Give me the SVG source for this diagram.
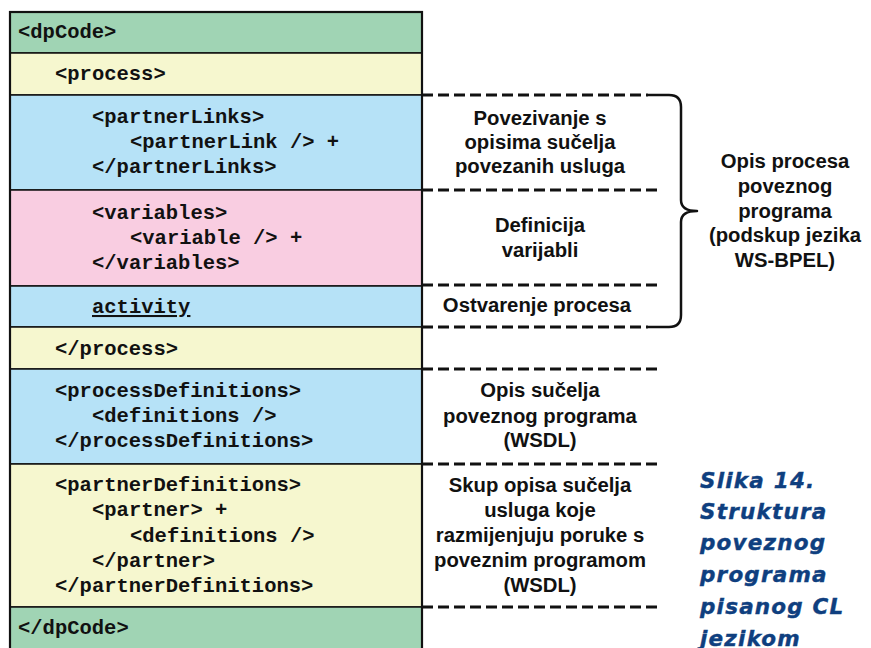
<svg xmlns="http://www.w3.org/2000/svg" width="871" height="648" viewBox="0 0 871 648">
  <style>
    .code { font-family: "Liberation Mono", "Courier New", monospace; font-weight: bold; font-size: 20.5px; fill: #111; }
    .note { font-family: "Liberation Sans", Arial, sans-serif; font-weight: bold; font-size: 20.3px; fill: #111; text-anchor: middle; }
    .cap { font-family: "DejaVu Sans", Verdana, sans-serif; font-weight: bold; font-style: italic; font-size: 21.5px; letter-spacing: 1.2px; fill: #0f3f7f; stroke: #0f3f7f; stroke-width: 0.4; }
    .row { stroke: #111; stroke-width: 1.5; }
    .green { fill: #a0d4b4; }
    .yellow { fill: #f6f7cf; }
    .blue { fill: #b6e2f7; }
    .pink { fill: #f9cde1; }
    .dash { stroke: #111; stroke-width: 3; stroke-dasharray: 11 5; fill: none; }
    .brace { stroke: #111; stroke-width: 2.5; fill: none; stroke-linejoin: round; }
  </style>

  <!-- code stack -->
  <g id="dpCode-open">
    <rect class="row green" x="10" y="12" width="412" height="41"/>
    <text class="code" x="18" y="38">&lt;dpCode&gt;</text>
  </g>
  <g id="process-open">
    <rect class="row yellow" x="10" y="53" width="412" height="42"/>
    <text class="code" x="55" y="80">&lt;process&gt;</text>
  </g>
  <g id="partnerLinks">
    <rect class="row blue" x="10" y="95" width="412" height="95"/>
    <text class="code" x="92" y="123">&lt;partnerLinks&gt;</text>
    <text class="code" x="130" y="148">&lt;partnerLink /&gt; +</text>
    <text class="code" x="92" y="173">&lt;/partnerLinks&gt;</text>
  </g>
  <g id="variables">
    <rect class="row pink" x="10" y="190" width="412" height="96"/>
    <text class="code" x="92" y="219">&lt;variables&gt;</text>
    <text class="code" x="130" y="244">&lt;variable /&gt; +</text>
    <text class="code" x="92" y="269">&lt;/variables&gt;</text>
  </g>
  <g id="activity">
    <rect class="row blue" x="10" y="286" width="412" height="41"/>
    <text class="code" x="92" y="313" text-decoration="underline">activity</text>
  </g>
  <g id="process-close">
    <rect class="row yellow" x="10" y="327" width="412" height="42"/>
    <text class="code" x="55" y="355">&lt;/process&gt;</text>
  </g>
  <g id="processDefinitions">
    <rect class="row blue" x="10" y="369" width="412" height="95"/>
    <text class="code" x="55" y="397">&lt;processDefinitions&gt;</text>
    <text class="code" x="92" y="422">&lt;definitions /&gt;</text>
    <text class="code" x="55" y="447">&lt;/processDefinitions&gt;</text>
  </g>
  <g id="partnerDefinitions">
    <rect class="row yellow" x="10" y="464" width="412" height="143"/>
    <text class="code" x="55" y="491">&lt;partnerDefinitions&gt;</text>
    <text class="code" x="92" y="516">&lt;partner&gt; +</text>
    <text class="code" x="130" y="542">&lt;definitions /&gt;</text>
    <text class="code" x="92" y="567">&lt;/partner&gt;</text>
    <text class="code" x="55" y="592">&lt;/partnerDefinitions&gt;</text>
  </g>
  <g id="dpCode-close">
    <rect class="row green" x="10" y="607" width="412" height="42"/>
    <text class="code" x="18" y="634">&lt;/dpCode&gt;</text>
  </g>
  <rect x="10" y="12" width="412" height="640" fill="none" stroke="#111" stroke-width="2.2"/>

  <!-- separators and brace -->
  <g id="connectors">
    <path class="dash" d="M422,95 H648"/>
    <path class="dash" d="M422,190 H660"/>
    <path class="dash" d="M422,285 H660"/>
    <path class="dash" d="M422,327 H648"/>
    <path class="dash" d="M422,369 H660"/>
    <path class="dash" d="M422,464 H660"/>
    <path class="dash" d="M422,607 H660"/>
    <path class="brace" d="M648,95 H669 Q681,95 681,107 V200 Q681,211 697,211 Q681,211 681,222 V315 Q681,327 669,327 H648"/>
  </g>

  <!-- side notes -->
  <g id="note-partnerLinks">
    <text class="note" x="540" y="125">Povezivanje s</text>
    <text class="note" x="540" y="149">opisima sučelja</text>
    <text class="note" x="540" y="173">povezanih usluga</text>
  </g>
  <g id="note-variables">
    <text class="note" x="540" y="232">Definicija</text>
    <text class="note" x="540" y="257">varijabli</text>
  </g>
  <g id="note-activity">
    <text class="note" x="537" y="312">Ostvarenje procesa</text>
  </g>
  <g id="note-process">
    <text class="note" x="785" y="168">Opis procesa</text>
    <text class="note" x="785" y="193">poveznog</text>
    <text class="note" x="785" y="218">programa</text>
    <text class="note" x="785" y="242">(podskup jezika</text>
    <text class="note" x="785" y="267">WS-BPEL)</text>
  </g>
  <g id="note-processDefinitions">
    <text class="note" x="540" y="397">Opis sučelja</text>
    <text class="note" x="540" y="423">poveznog programa</text>
    <text class="note" x="540" y="447">(WSDL)</text>
  </g>
  <g id="note-partnerDefinitions">
    <text class="note" x="540" y="492">Skup opisa sučelja</text>
    <text class="note" x="540" y="517">usluga koje</text>
    <text class="note" x="540" y="542">razmijenjuju poruke s</text>
    <text class="note" x="540" y="567">poveznim programom</text>
    <text class="note" x="540" y="592">(WSDL)</text>
  </g>

  <!-- caption -->
  <g id="caption">
    <text class="cap" x="700" y="488">Slika 14.</text>
    <text class="cap" x="700" y="519">Struktura</text>
    <text class="cap" x="700" y="550">poveznog</text>
    <text class="cap" x="700" y="582">programa</text>
    <text class="cap" x="700" y="614">pisanog CL</text>
    <text class="cap" x="700" y="646">jezikom</text>
  </g>
</svg>
